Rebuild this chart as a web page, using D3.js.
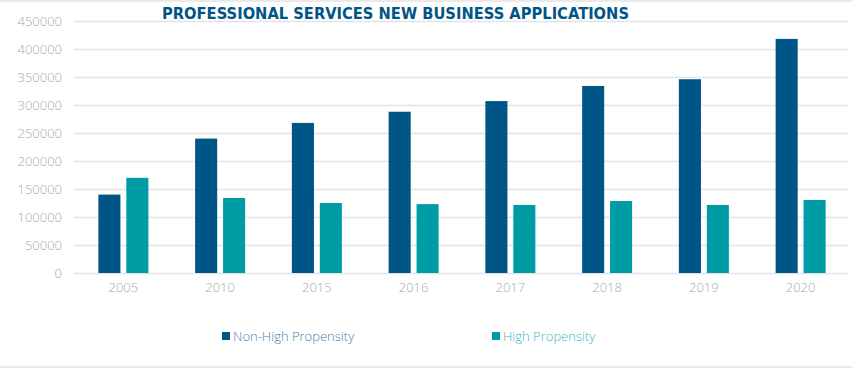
<!DOCTYPE html>
<html><head><meta charset="utf-8">
<script src="https://cdn.jsdelivr.net/npm/d3@7"></script>
<style>body{margin:0;background:#fff;}svg{display:block;}</style>
</head><body><svg id="c" width="852" height="368"></svg>
<script>
const categories = ["2005","2010","2015","2016","2017","2018","2019","2020"];
const seriesNames = ["Non-High Propensity","High Propensity"];
const nonHigh = [140000,240000,268000,288000,307000,334000,346000,418000];
const high = [170000,134000,125000,123000,121500,128500,121500,130500];
const yTicks = [0,50000,100000,150000,200000,250000,300000,350000,400000,450000];
const colors = ["#005587","#009ca6"];
const titleText = "PROFESSIONAL SERVICES NEW BUSINESS APPLICATIONS";

const svg = d3.select("#c");
const W = 852, H = 368;
// frame lines
svg.append("line").attr("x1",0).attr("x2",W).attr("y1",1).attr("y2",1).attr("stroke","#e3e3e3").attr("stroke-width",1.5);
svg.append("line").attr("x1",0).attr("x2",W).attr("y1",367).attr("y2",367).attr("stroke","#e3e3e3").attr("stroke-width",1.5);

const x0 = d3.scaleBand().domain(categories).range([75,849]).padding(0);
const x1 = d3.scaleBand().domain(seriesNames).range([0,50]).paddingInner(0.21);
const y = d3.scaleLinear().domain([0,450000]).range([273,21]);

// gridlines
svg.append("g").selectAll("line").data(yTicks).join("line")
  .attr("x1",74).attr("x2",848).attr("y1",d=>Math.round(y(d))+0.5).attr("y2",d=>Math.round(y(d))+0.5)
  .attr("stroke","#e4e4e4").attr("stroke-width",1.3);

// y axis
const yAxis = d3.axisLeft(y).tickValues(yTicks).tickSize(0).tickPadding(0).tickFormat(d3.format("d"));
const gy = svg.append("g").attr("transform","translate(62,0)").call(yAxis);
gy.select(".domain").remove();
gy.selectAll("text").attr("font-family","'Open Sans', sans-serif").attr("font-size",13).attr("fill","#a9a9a9").attr("font-weight",300);

// x axis
const xAxis = d3.axisBottom(x0).tickSize(0).tickPadding(0);
const gx = svg.append("g").attr("transform","translate(0,283)").call(xAxis);
gx.select(".domain").remove();
gx.selectAll("text").attr("font-family","'Open Sans', sans-serif").attr("font-size",13).attr("fill","#a9a9a9").attr("font-weight",300);

// bars
const rows = categories.map((c,i)=>({cat:c, vals:[nonHigh[i],high[i]]}));
const groups = svg.append("g").selectAll("g").data(rows).join("g")
  .attr("transform",d=>`translate(${x0(d.cat)+(x0.bandwidth()-50)/2},0)`);
groups.selectAll("rect").data(d=>d.vals.map((v,j)=>({s:seriesNames[j],v,j}))).join("rect")
  .attr("x",d=>x1(d.s)).attr("width",x1.bandwidth())
  .attr("y",d=>y(d.v)).attr("height",d=>y(0)-y(d.v))
  .attr("fill",d=>colors[d.j]);

// title
svg.append("text").attr("x",395.5).attr("y",18.5).attr("text-anchor","middle")
  .attr("font-family","'DejaVu Sans', sans-serif").attr("font-weight","bold").attr("font-size",15.5)
  .attr("fill","#005587").attr("textLength",467).attr("lengthAdjust","spacingAndGlyphs")
  .text(titleText);

// legend
const legX = [222,492];
const legTextCol = ["#4a7fa6","#3fb6bc"];
const leg = svg.append("g").selectAll("g").data(seriesNames).join("g")
  .attr("transform",(d,i)=>`translate(${legX[i]},332)`);
leg.append("rect").attr("width",8).attr("height",8).attr("fill",(d,i)=>colors[i]);
leg.append("text").attr("x",11).attr("y",8.5).text(d=>d)
  .attr("font-family","'Open Sans', sans-serif").attr("font-size",13).attr("font-weight",300)
  .attr("fill",(d,i)=>legTextCol[i]);
</script></body></html>
